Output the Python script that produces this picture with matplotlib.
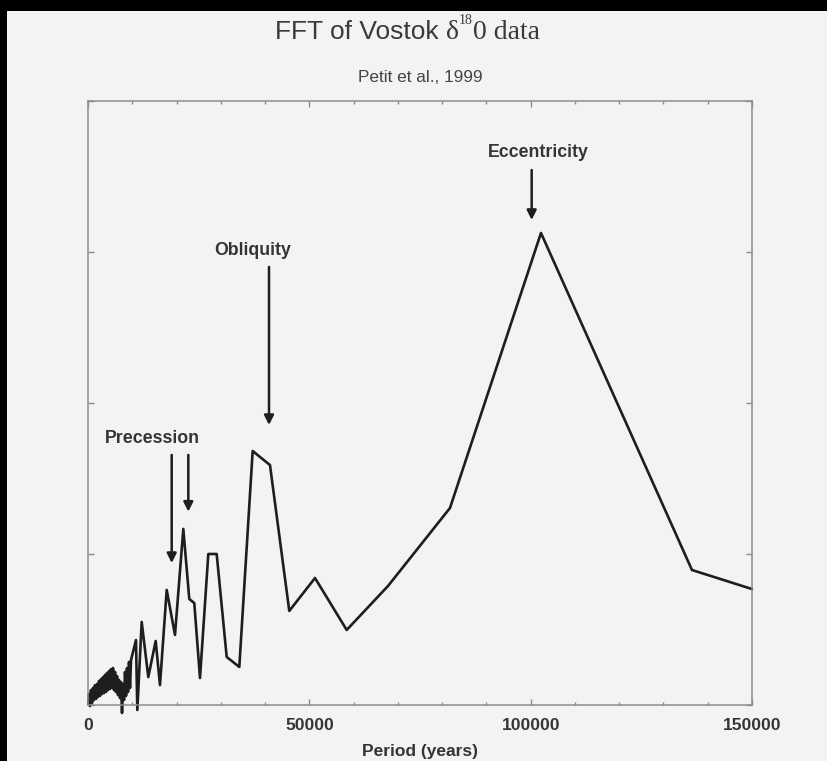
import matplotlib
matplotlib.use("Agg")
import matplotlib.pyplot as plt
from matplotlib.patches import Rectangle

# FFT amplitude vs. period for the Vostok delta-18O record (arbitrary units)
period = [
    100, 226, 452, 678, 904, 1130, 1356, 1582, 1808, 2034, 2260, 2486, 2712,
    2938, 3164, 3390, 3616, 3842, 4068, 4294, 4520, 4746, 4972, 5198, 5424,
    5650, 5876, 6102, 6328, 6554, 6780, 7006, 7232, 7458, 7684, 7910, 8136,
    8362, 8588, 8814, 9040, 9266, 9492, 9720,
    10840, 11140, 12130, 13620, 15290, 16260, 17780, 19650, 21530, 22880,
    24010, 25300, 27180, 29070, 31330, 34180, 37200, 41110, 45470, 51280,
    58440, 67770, 81780, 102330, 136440, 150000,
]
amplitude = [
    0.007, 0.073, -0.007, 0.099, 0.013, 0.113, 0.033, 0.132, 0.040, 0.139,
    0.053, 0.159, 0.060, 0.172, 0.073, 0.185, 0.079, 0.199, 0.086, 0.212,
    0.099, 0.225, 0.106, 0.238, 0.113, 0.245, 0.099, 0.219, 0.086, 0.192,
    0.066, 0.166, 0.046, 0.152, -0.053, 0.139, 0.033, 0.219, 0.060, 0.245,
    0.086, 0.285, 0.113, 0.298,
    0.430, -0.033, 0.550, 0.185, 0.424, 0.132, 0.762, 0.464, 1.166, 0.702,
    0.675, 0.179, 1.000, 1.000, 0.318, 0.252, 1.682, 1.589, 0.623, 0.841,
    0.497, 0.788, 1.305, 3.126, 0.894, 0.768,
]

xticks = [0, 50000, 100000, 150000]
xtick_labels = ["0", "50000", "100000", "150000"]

bg = "#f3f3f3"
ink = "#1e1e1e"
txt = "#343434"

fig = plt.figure(figsize=(8.27, 7.61), dpi=100, facecolor=bg)

# dark border strips along the top and left edges
fig.patches.append(Rectangle((0, 1 - 11 / 761), 1, 11 / 761, transform=fig.transFigure,
                             facecolor="black", edgecolor="none", zorder=-1))
fig.patches.append(Rectangle((0, 0), 7 / 827, 1, transform=fig.transFigure,
                             facecolor="black", edgecolor="none", zorder=-1))

ax = fig.add_axes([88 / 827, 1 - 705 / 761, 664 / 827, 604 / 761])
ax.set_facecolor(bg)
ax.plot(period, amplitude, color=ink, lw=1.9, clip_on=False,
        solid_joinstyle="round", solid_capstyle="round")
ax.set_xlim(0, 150000)
ax.set_ylim(0, 4)

for s in ax.spines.values():
    s.set_color("#8c8c8c")
    s.set_linewidth(1.1)

ax.set_xticks(xticks)
ax.set_xticklabels(xtick_labels, fontdict=dict(family="Liberation Sans", weight="bold",
                                                size=12.6, color=txt))
ax.set_xticks(range(0, 150001, 10000), minor=True)
ax.set_yticks([0, 1, 2, 3, 4])
ax.set_yticklabels([])
ax.tick_params(axis="both", which="both", direction="in", top=True, right=True,
               color="#8c8c8c")
ax.tick_params(axis="both", which="major", length=4, width=1, pad=9)
ax.tick_params(axis="both", which="minor", length=2.5, width=1)
ax.set_xlabel("Period (years)", family="Liberation Sans", weight="bold", size=12.5,
              color=txt, labelpad=8)

lab = dict(family="Liberation Sans", weight="bold", size=12.8, color=txt,
           ha="center", va="center")
arrow = dict(arrowstyle="-|>", color=ink, lw=1.8, mutation_scale=14, shrinkA=0, shrinkB=0)

ax.text(14570, 1.768, "Precession", **lab)
ax.annotate("", xy=(18910, 0.940), xytext=(18910, 1.656), arrowprops=arrow)
ax.annotate("", xy=(22660, 1.280), xytext=(22660, 1.656), arrowprops=arrow)

ax.text(37270, 3.013, "Obliquity", **lab)
ax.annotate("", xy=(40890, 1.854), xytext=(40890, 2.901), arrowprops=arrow)

ax.text(101650, 3.656, "Eccentricity", **lab)
ax.annotate("", xy=(100230, 3.212), xytext=(100230, 3.543), arrowprops=arrow)

# title assembled from sans and serif pieces with a superscript
r = fig.canvas.get_renderer()
base_y = 1 - 39 / 761
pieces = [
    ("FFT of Vostok ", dict(family="Liberation Sans", size=19), 0),
    ("δ", dict(family="Liberation Serif", size=20), 0),
    ("18", dict(family="Liberation Serif", size=10), 15),
    ("0 data", dict(family="Liberation Serif", size=20), 0),
]
objs = []
total = 0
for s, kw, rise in pieces:
    t = fig.text(0, base_y + rise / 761, s, color="#3a3a3a", va="baseline", ha="left", **kw)
    w = t.get_window_extent(r).width
    objs.append((t, w))
    total += w
x = 407.5 - total / 2
for t, w in objs:
    t.set_x(x / 827)
    x += w

fig.text(420 / 827, 1 - 77 / 761, "Petit et al., 1999", family="Liberation Sans",
         size=12.4, color="#444444", ha="center", va="center")

fig.savefig("out.png", dpi=100, facecolor=bg)
